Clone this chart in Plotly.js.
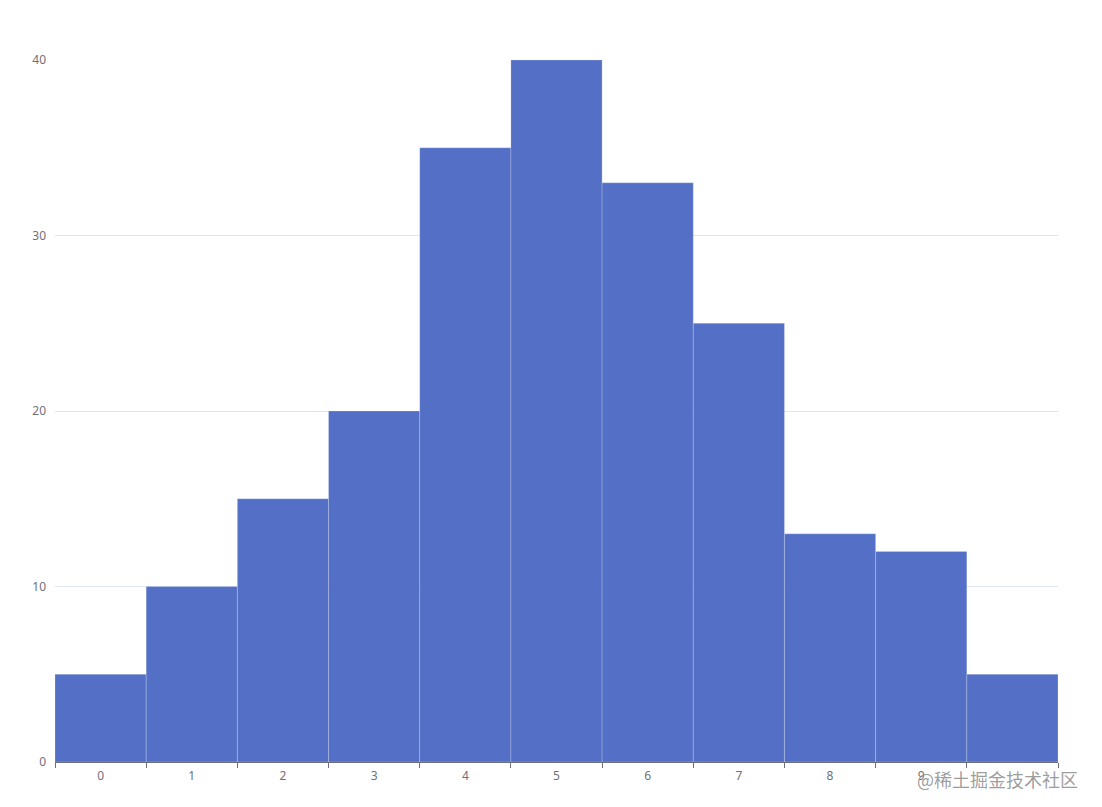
<!DOCTYPE html>
<html>
<head>
<meta charset="utf-8">
<script src="https://cdn.plot.ly/plotly-3.0.1.min.js"></script>
<style>html,body{margin:0;padding:0;background:#fff}#chart{width:1102px;height:807px}</style>
</head>
<body>
<div id="chart"></div>
<script>
var categories = [0, 1, 2, 3, 4, 5, 6, 7, 8, 9, 10];
var counts = [5, 10, 15, 20, 35, 40, 33, 25, 13, 12, 5];
var xTickLabels = ["0", "1", "2", "3", "4", "5", "6", "7", "8", "9"];
var xTickVals = [0, 1, 2, 3, 4, 5, 6, 7, 8, 9];
var binEdges = [-0.5, 0.5, 1.5, 2.5, 3.5, 4.5, 5.5, 6.5, 7.5, 8.5, 9.5, 10.5];
var yTicks = [0, 10, 20, 30, 40];
var watermark = "@稀土掘金技术社区";

var axisColor = "#6e7079";
var trace = {
  type: "bar",
  x: categories,
  y: counts,
  width: 1,
  marker: {color: "#5470c6", line: {color: "rgba(255,255,255,0.2)", width: 1}},
  hoverinfo: "x+y"
};
var edgeTrace = {
  type: "scatter", mode: "markers", x: [binEdges[0]], y: [0], xaxis: "x2",
  marker: {opacity: 0}, hoverinfo: "skip", showlegend: false
};
var layout = {
  width: 1102, height: 807,
  margin: {l: 55, r: 44, t: 60, b: 45},
  paper_bgcolor: "#fff", plot_bgcolor: "#fff",
  showlegend: false,
  font: {family: "Noto Sans, sans-serif", size: 12, color: axisColor},
  xaxis: {
    range: [-0.5, 10.5], tickvals: xTickVals, ticktext: xTickLabels,
    ticks: "", showgrid: false, zeroline: false, ticklabelstandoff: 3,
    showline: true, linecolor: axisColor, linewidth: 1,
    tickfont: {size: 12, color: axisColor}, fixedrange: true
  },
  xaxis2: {
    overlaying: "x", range: [-0.5, 10.5], tickvals: binEdges, showticklabels: false,
    ticks: "outside", ticklen: 5, tickcolor: axisColor, tickwidth: 1,
    showgrid: false, zeroline: false, showline: false, side: "bottom", anchor: "y"
  },
  yaxis: {
    range: [0, 40], tickvals: yTicks, showgrid: true, gridcolor: "#e0e6f1",
    zeroline: false, showline: false, ticks: "", ticklabelstandoff: 8,
    tickfont: {size: 12, color: axisColor}
  },
  annotations: [{
    text: watermark, xref: "paper", yref: "paper", x: 1.022, y: -0.003,
    xanchor: "right", yanchor: "top", showarrow: false,
    font: {family: "Noto Sans CJK SC, sans-serif", size: 18, color: "rgba(140,140,140,0.85)"}
  }]
};
Plotly.newPlot("chart", [trace, edgeTrace], layout, {displayModeBar: false});
</script>
</body>
</html>
